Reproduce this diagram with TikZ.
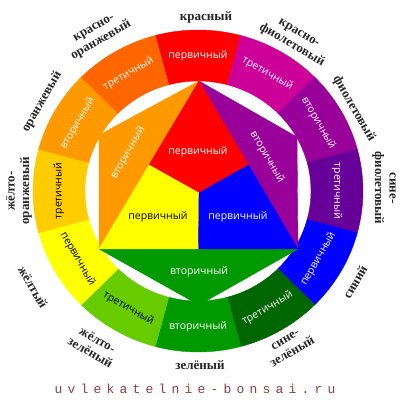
\documentclass[tikz,border=0pt]{standalone}
\usepackage{fontspec}
\setmainfont{Liberation Serif}
\newfontfamily\segfont{Open Sans}
\newfontfamily\wmfont[LetterSpace=40]{Liberation Mono}
\definecolor{cRed}{HTML}{FF0000}
\definecolor{cRV}{HTML}{CC0099}
\definecolor{cV}{HTML}{990099}
\definecolor{cBV}{HTML}{660099}
\definecolor{cB}{HTML}{0000FF}
\definecolor{cBG}{HTML}{006600}
\definecolor{cG}{HTML}{009900}
\definecolor{cYG}{HTML}{66CC00}
\definecolor{cY}{HTML}{FFFF00}
\definecolor{cYO}{HTML}{FFCC00}
\definecolor{cO}{HTML}{FF9900}
\definecolor{cRO}{HTML}{FF6600}
\definecolor{cWM}{HTML}{8C4040}
\tikzset{
  segtext/.style={font=\segfont\fontsize{10.5}{12}\selectfont, inner sep=0pt},
  outlabel/.style={font=\bfseries\fontsize{13}{14.5}\selectfont, align=center, inner sep=0pt, text=black!85},
  wedge/.style={line width=0.4pt}
}
\begin{document}
\begin{tikzpicture}[x=1pt,y=1pt]
\useasboundingbox (0,0) rectangle (400,400);
\fill[white] (0,0) rectangle (400,400);
\begin{scope}[shift={(198,209)}]
\foreach \a/\col/\txt/\tc/\rot [count=\n] in {
  90/cRed/первичный/white/0,
  60/cRV/третичный/white/-30,
  30/cV/вторичный/white/-60,
  0/cBV/третичный/white/-90,
  -30/cB/первичный/white/60,
  -60/cBG/третичный/white/30,
  -90/cG/вторичный/white/0,
  -120/cYG/третичный/black/-30,
  -150/cY/первичный/black/-60,
  180/cYO/третичный/black/90,
  150/cO/вторичный/white/60,
  120/cRO/третичный/white/30} {
  \filldraw[wedge, fill=\col, draw=\col] (\a-15:165 and 161)
     arc[start angle=\a-15, end angle=\a+15, x radius=165, y radius=161]
     -- (\a+15:113 and 110)
     arc[start angle=\a+15, end angle=\a-15, x radius=113, y radius=110] -- cycle;
  \node[segtext, text=\tc, rotate=\rot] (ring\n) at (\a:139 and 135.5) {\txt};
}
\end{scope}
% inner hexagon
\coordinate (T) at (199,319);
\coordinate (UL) at (99,265);
\coordinate (BL) at (99,151);
\coordinate (B) at (199,95);
\coordinate (BR) at (298,151);
\coordinate (UR) at (297,263);
\coordinate (MTL) at (149,235);
\coordinate (MTR) at (248.5,235);
\coordinate (MB) at (198.5,151);
\coordinate (C) at (199,207);
\filldraw[wedge, fill=cO, draw=cO] (T) -- (UL) -- (BL) -- cycle;
\filldraw[wedge, fill=cV, draw=cV] (T) -- (UR) -- (BR) -- cycle;
\filldraw[wedge, fill=cG, draw=cG] (BL) -- (B) -- (BR) -- cycle;
\filldraw[wedge, fill=cRed, draw=cRed] (T) -- (MTL) -- (C) -- (MTR) -- cycle;
\filldraw[wedge, fill=cY, draw=cY] (MTL) -- (BL) -- (MB) -- (C) -- cycle;
\filldraw[wedge, fill=cB, draw=cB] (MTR) -- (C) -- (MB) -- (BR) -- cycle;
\node[segtext, text=white] (tRed) at (198,248) {первичный};
\node[segtext, text=black] (tYel) at (158,183) {первичный};
\node[segtext, text=white] (tBlu) at (238,183) {первичный};
\node[segtext, text=white] (tGrn) at (199,128) {вторичный};
\node[segtext, text=white, rotate=60] (tOra) at (128,247) {вторичный};
\node[segtext, text=white, rotate=-60] (tVio) at (267,243) {вторичный};
% outer labels
\node[outlabel] (l1) at (206,383) {красный};
\node[outlabel, rotate=-30] (l2) at (295,360) {красно-\\фиолетовый};
\node[outlabel, rotate=-60] (l3) at (354,291) {фиолетовый};
\node[outlabel, rotate=-90] (l4) at (384,212) {сине-\\фиолетовый};
\node[outlabel, rotate=60] (l5) at (355,118) {синий};
\node[outlabel, rotate=30] (l6) at (289,54) {сине-\\зелёный};
\node[outlabel] (l7) at (200,35) {зелёный};
\node[outlabel, rotate=-30] (l8) at (94,54) {жёлто-\\зелёный};
\node[outlabel, rotate=-60] (l9) at (33,113) {жёлтый};
\node[outlabel, rotate=90] (l10) at (19,209) {жёлто-\\оранжевый};
\node[outlabel, rotate=60] (l11) at (42,298) {оранжевый};
\node[outlabel, rotate=30] (l12) at (98,365) {красно-\\оранжевый};
% watermark
\node[font=\wmfont\fontsize{13}{13}\selectfont, text=cWM, inner sep=0pt] (wm) at (195,11) {uvlekatelnie-bonsai.ru};
\end{tikzpicture}
\end{document}
